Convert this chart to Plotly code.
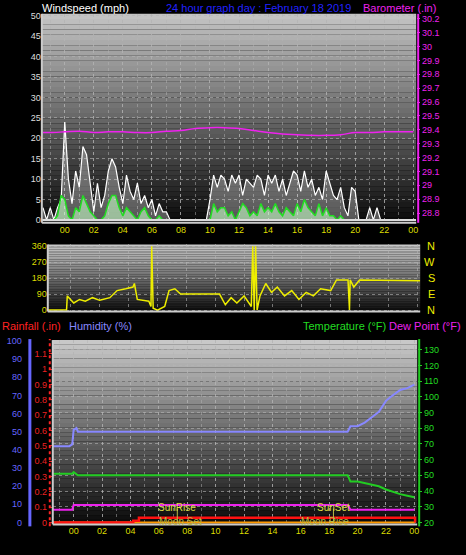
import plotly.graph_objects as go

# ---------- data ----------
hour_ticks = list(range(0, 25, 2))
hour_labels = ["00","02","04","06","08","10","12","14","16","18","20","22","00"]

wind_hours = [(-1.5 + 0.25*i) for i in range(103)]
gust = [3,0, 3,0,3,5, 24,10,4,12, 8,18,16,9, 2,9,3,6, 12,15,13,8, 4,11,7,5, 9,4,6,3,
        5,1,4,2, 2,0,0,0, 0,0,0,0, 0,0,0,0, 5,11,8,11, 10,7,11,9, 11,6,10,9, 8,11,10,6,
        11,9,11,7, 10,6,9,12, 11,7,12,8, 10,6,8,5, 12,9,6,5, 8,3,1,8, 7,0,0,0, 3,0,3,0,
        0,0,0,0, 0,0,0,0, 0]
avg = [0,0, 0,0,1,6, 5,1,0,3, 2,6,4,2, 1,0,0,1, 4,6,6,3, 1,3,2,1, 0,2,3,1, 0,0,1,0,
       0,0,0,0, 0,0,0,0, 0,0,0,0, 0,4,2,3, 3,1,2,0, 2,4,3,1, 2,1,4,2, 3,2,4,2, 1,3,2,1,
       4,2,5,3, 2,1,4,1, 3,1,1,0, 1,0,0,0, 0,0,0,0, 0,0,0,0, 0,0,0,0, 0,0,0,0, 0]

baro_hours = [-1.5, -1, 0, 1, 2, 3, 4, 5, 6, 7, 8, 9, 10, 11, 12, 13, 14, 15, 16, 17, 18, 19, 20, 21, 22, 23, 24]
baro = [29.38, 29.38, 29.385, 29.39, 29.38, 29.385, 29.385, 29.38, 29.38, 29.39, 29.395, 29.41, 29.415, 29.415,
        29.41, 29.395, 29.38, 29.37, 29.365, 29.36, 29.36, 29.365, 29.38, 29.38, 29.385, 29.385, 29.385]

dir_hours = [-1.6, -0.3, -0.25, 0.2, 0.6, 1.0, 1.5, 2.0, 2.7, 3.2, 3.8, 4.3, 4.4, 4.6, 5.4, 5.55, 5.6, 5.7,
             6.0, 6.5, 6.8, 7.2, 7.6, 8.0, 10.3, 10.7, 11.1, 11.5, 12.0, 12.5, 12.6, 12.7, 12.8, 12.9, 13.1,
             13.5, 13.9, 14.3, 14.8, 15.3, 15.8, 16.3, 16.8, 17.3, 18.0, 18.4, 19.2, 19.3, 19.35, 19.6, 20.0, 24.2]
dir_vals = [0, 0, 80, 40, 60, 50, 70, 55, 70, 110, 120, 130, 150, 60, 50, 20, 360, 10, 0, 20, 110, 120, 90,
            90, 90, 30, 70, 40, 80, 20, 360, 0, 360, 0, 80, 150, 100, 130, 80, 110, 60, 100, 80, 120, 110,
            170, 170, 0, 170, 130, 170, 165]

th_hours = [-1.5, -0.3, -0.1, 0.0, 0.2, 0.3, 19.3, 19.5, 20.0, 20.5, 21.0, 21.5, 22.0, 22.3, 23.0, 23.5, 24.0]
humidity = [42, 42, 43, 51, 52, 50, 50, 53, 53, 55, 58, 61, 67, 69, 73, 74, 76]
temp = [51, 51, 51, 52, 51, 50, 50, 46, 46, 45, 44, 43, 41, 40, 38, 37, 36]
dewpt = [28, 28, 28, 31, 31, 31, 31, 28, 28, 28, 28, 28, 28, 28, 28, 28, 28]

rain_hours = [-1.5, 4.0, 4.2, 4.6, 24.0, 24.05]
rain = [0, 0, 0.01, 0.03, 0.03, 0]

sun_events = {"SunRise": 7.3, "SunSet": 18.3}
moon_events = {"Moon Set": 7.5, "Moon Rise": 17.7}

# ---------- layout ----------
W, H = 466, 555
def px(x): return x / W
def py(y): return 1 - y / H

P1 = (42, 418, 10, 222)
P2 = (48, 422, 244, 312)
P3 = (53, 419, 341, 528)

fig = go.Figure()
FONT = "Liberation Sans"

# panel 1
fig.add_trace(go.Scatter(x=wind_hours, y=gust, mode="lines", line=dict(color="white", width=1.2),
                         fill="tozeroy", fillcolor="rgba(230,230,230,0.35)", xaxis="x", yaxis="y", hoverinfo="skip"))
fig.add_trace(go.Scatter(x=wind_hours, y=avg, mode="lines", line=dict(color="#22dd22", width=1.5),
                         fill="tozeroy", fillcolor="rgba(200,255,200,0.6)", xaxis="x", yaxis="y", hoverinfo="skip"))
fig.add_trace(go.Scatter(x=[-1.6, 24.2], y=[0, 0], mode="lines", line=dict(color="#dddddd", width=2),
                         xaxis="x", yaxis="y", hoverinfo="skip"))
fig.add_trace(go.Scatter(x=baro_hours, y=baro, mode="lines", line=dict(color="#ee22ee", width=1.5, shape="spline"),
                         xaxis="x", yaxis="y2", hoverinfo="skip"))
# panel 2
fig.add_trace(go.Scatter(x=dir_hours, y=dir_vals, mode="lines", line=dict(color="#eeee00", width=1.5),
                         xaxis="x2", yaxis="y3", hoverinfo="skip"))
# panel 3
fig.add_trace(go.Scatter(x=th_hours, y=humidity, mode="lines", line=dict(color="#8888ff", width=2),
                         xaxis="x3", yaxis="y4", hoverinfo="skip"))
fig.add_trace(go.Scatter(x=th_hours, y=temp, mode="lines", line=dict(color="#22cc22", width=2),
                         xaxis="x3", yaxis="y6", hoverinfo="skip"))
fig.add_trace(go.Scatter(x=th_hours, y=dewpt, mode="lines", line=dict(color="#ee22ee", width=2),
                         xaxis="x3", yaxis="y6", hoverinfo="skip"))
fig.add_trace(go.Scatter(x=[-1.5, 24.05], y=[0, 0], mode="lines", line=dict(color="#ff9900", width=2),
                         xaxis="x3", yaxis="y5", hoverinfo="skip"))
fig.add_trace(go.Scatter(x=rain_hours, y=rain, mode="lines", line=dict(color="#ff1111", width=2.5, shape="hv"),
                         xaxis="x3", yaxis="y5", hoverinfo="skip"))
for name, h in sun_events.items():
    fig.add_trace(go.Scatter(x=[h, h], y=[0.0, 0.09], mode="lines", line=dict(color="#bbbb44", width=1),
                             xaxis="x3", yaxis="y5", hoverinfo="skip"))
    fig.add_annotation(x=h, y=0.1, xref="x3", yref="y5", text=name, showarrow=False,
                       font=dict(color="#dddd44", size=10, family=FONT))
for name, h in moon_events.items():
    fig.add_annotation(x=h, y=0.005, xref="x3", yref="y5", text=name, showarrow=False,
                       font=dict(color="#bbbb44", size=10, family=FONT))

# gradient backgrounds
shapes = []
def grad(P, top, bot, n=40):
    x0, x1, y0, y1 = P
    for i in range(n):
        t = i / (n - 1)
        c = int(top + (bot - top) * t)
        ya = y0 + (y1 - y0) * i / n
        yb = y0 + (y1 - y0) * (i + 1) / n
        shapes.append(dict(type="rect", xref="paper", yref="paper", x0=px(x0), x1=px(x1), y0=py(yb), y1=py(ya),
                           fillcolor=f"rgb({c},{c},{c})", line=dict(width=0), layer="below"))
grad(P1, 195, 12)
grad(P2, 200, 15)
grad(P3, 200, 12)
for P in (P1, P2, P3):
    shapes.append(dict(type="line", xref="paper", yref="paper", x0=px(P[0]), x1=px(P[1]), y0=py(P[3]), y1=py(P[3]),
                       line=dict(color="#cccccc", width=2)))
    shapes.append(dict(type="line", xref="paper", yref="paper", x0=px(P[0]), x1=px(P[0]), y0=py(P[3]), y1=py(P[2]),
                       line=dict(color="#cccccc", width=2)))
shapes.append(dict(type="line", xref="paper", yref="paper", x0=px(50), x1=px(50), y0=py(530), y1=py(340),
                   line=dict(color="#ff2222", width=2, dash="dot")))
shapes.append(dict(type="line", xref="paper", yref="paper", x0=px(30), x1=px(30), y0=py(530), y1=py(340),
                   line=dict(color="#6666ff", width=3)))
shapes.append(dict(type="line", xref="paper", yref="paper", x0=px(421), x1=px(421), y0=py(530), y1=py(340),
                   line=dict(color="#22cc22", width=2)))
shapes.append(dict(type="line", xref="paper", yref="paper", x0=px(420), x1=px(420), y0=py(222), y1=py(10),
                   line=dict(color="#ee22ee", width=2)))

grid = dict(showgrid=True, gridcolor="rgba(180,180,180,0.6)", griddash="dot", gridwidth=1, zeroline=False)
tickf = dict(size=9, family=FONT)

fig.update_layout(
    width=W, height=H, margin=dict(l=0, r=0, t=0, b=0), paper_bgcolor="black", plot_bgcolor="rgba(0,0,0,0)",
    showlegend=False, shapes=shapes,
    xaxis=dict(domain=[px(P1[0]), px(P1[1])], range=[-1.58, 24.2], tickvals=hour_ticks, ticktext=hour_labels,
               tickfont=dict(color="#dddd00", **tickf), **grid, anchor="y",
               minor=dict(dtick=1, showgrid=True, gridcolor="rgba(180,180,180,0.5)", griddash="dot")),
    yaxis=dict(domain=[py(P1[3]), py(P1[2])], range=[-0.7, 50.5], tickvals=list(range(0, 51, 5)),
               tickfont=dict(color="#dddddd", **tickf), **grid, anchor="x"),
    yaxis2=dict(overlaying="y", side="right", range=[28.73, 30.235], tickvals=[28.8 + 0.1*i for i in range(15)],
                ticktext=[f"{28.8 + 0.1*i:.1f}".rstrip("0").rstrip(".") for i in range(15)],
                tickfont=dict(color="#ee22ee", **tickf), showgrid=False, zeroline=False, anchor="x",
                ticks="outside", tickcolor="#ee22ee", ticklen=3),
    xaxis2=dict(domain=[px(P2[0]), px(P2[1])], range=[-1.6, 24.2], showticklabels=False, tickvals=hour_ticks,
                **grid, anchor="y3"),
    yaxis3=dict(domain=[py(P2[3]), py(P2[2])], range=[-8, 370], tickvals=[0, 90, 180, 270, 360],
                tickfont=dict(color="#dddd00", **tickf), **grid, anchor="x2"),
    xaxis3=dict(domain=[px(P3[0]), px(P3[1])], range=[-1.47, 24.2], tickvals=hour_ticks, ticktext=hour_labels,
                tickfont=dict(color="#dddd00", **tickf), **grid, anchor="y5",
                minor=dict(dtick=1, showgrid=True, gridcolor="rgba(180,180,180,0.5)", griddash="dot")),
    yaxis5=dict(domain=[py(P3[3]), py(P3[2])], range=[-0.013, 1.19], tickvals=[0.1*i for i in range(12)],
                ticktext=["0"] + [f"{0.1*i:.1f}".rstrip("0").rstrip(".") for i in range(1, 12)],
                tickfont=dict(color="#ee2222", **tickf), showgrid=False, zeroline=False, anchor="x3",
                ticks="outside", tickcolor="#ee2222", ticklen=3),
    yaxis4=dict(overlaying="y5", range=[-1.1, 100.5], tickvals=list(range(0, 101, 10)), anchor="free",
                position=px(22), side="left", tickfont=dict(color="#6666ff", **tickf), showgrid=False, zeroline=False),
    yaxis6=dict(overlaying="y5", side="right", range=[18.7, 136.3], tickvals=list(range(20, 131, 10)),
                tickfont=dict(color="#22dd22", **tickf), anchor="x3", ticks="outside", tickcolor="#22cc22",
                ticklen=4, gridcolor="rgba(180,180,180,0.6)", griddash="dot", showgrid=True, zeroline=False),
)

def ann(x, y, text, color, size=11, xanchor="left"):
    fig.add_annotation(x=px(x), y=py(y), xref="paper", yref="paper", text=text, showarrow=False,
                       xanchor=xanchor, yanchor="middle", font=dict(color=color, size=size, family=FONT))
ann(40, 4, "Windspeed (mph)", "white")
ann(260, 4, "24 hour graph day : February 18 2019", "#2222ff", xanchor="center")
ann(440, 4, "Barometer (.in)", "#ee22ee", xanchor="right")
for lab, v in zip(["N", "W", "S", "E", "N"], [360, 270, 180, 90, 0]):
    fig.add_annotation(x=px(439), y=v, xref="paper", yref="y3", text=lab, showarrow=False,
                       font=dict(color="#eeee00", size=11, family=FONT))
ann(0, 327, "Rainfall (.in)", "#ff2222")
ann(67, 327, "Humidity (%)", "#8888ff")
ann(390, 327, "Temperature (°F)", "#22dd22", xanchor="right")
ann(465, 327, "Dew Point (°F)", "#ee22ee", xanchor="right")

fig.write_html("out.html", post_script="document.body.style.margin='0px';",
               config={"displayModeBar": False})
